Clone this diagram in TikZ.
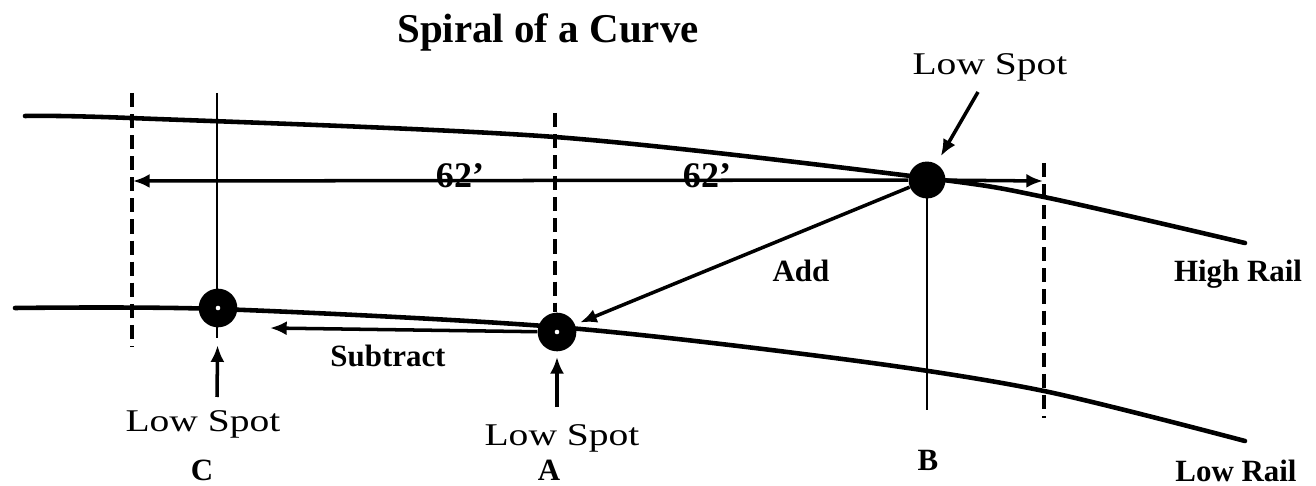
\documentclass[tikz,border=0pt]{standalone}
\usepackage{fontspec}
\setmainfont{Liberation Serif}
\newfontfamily\spotfont[FakeStretch=1.25]{Liberation Serif}
\usetikzlibrary{arrows.meta}

\begin{document}
\begin{tikzpicture}[x=0.02cm, y=-0.02cm, >={Latex[length=9.5pt,width=8pt]},
  rail/.style={line width=2.6pt, line cap=round},
  guide/.style={line width=0.9pt},
  dashguide/.style={line width=2pt, dash pattern=on 8pt off 4pt},
  pointer/.style={->, line width=2pt},
  lowdot/.style={circle, fill=black, inner sep=0pt, minimum size=22pt,
    path picture={\fill[white] (path picture bounding box.center) circle (1.3pt);}},
  highdot/.style={circle, fill=black, inner sep=0pt, minimum size=21pt},
  titletext/.style={font=\fontsize{23.3pt}{28pt}\selectfont\bfseries},
  boldlbl/.style={font=\fontsize{17.6pt}{21pt}\selectfont\bfseries},
  spotlbl/.style={font=\spotfont\fontsize{18pt}{21pt}\selectfont},
  dimlbl/.style={font=\fontsize{20.5pt}{24pt}\selectfont\bfseries}]
  \useasboundingbox (0,0) rectangle (1316,486);
  % rails
  \draw[rail] plot[smooth] coordinates {(25,116) (130,118) (555,137) (927,178) (1044,197) (1245,243)};
  \draw[rail] plot[smooth] coordinates {(15,308) (218,309) (557,327) (850,360) (1044,391) (1245,441)};
  % station lines
  \draw[dashguide] (132,93) -- (132,347);
  \draw[dashguide] (555,113) -- (555,312);
  \draw[dashguide] (1044,163) -- (1044,418);
  \draw[guide] (217,93) -- (217,338);
  \draw[guide] (927,180) -- (927,410);
  % low spots
  \node[lowdot] (dotC) at (218,308) {};
  \node[lowdot] (dotA) at (557,332) {};
  \node[highdot] (dotB) at (927,180) {};
  \coordinate (dimL) at (133,181);
  \coordinate (dimR) at (1043,181);
  \coordinate (subEnd) at (270,328);
  \coordinate (footC) at (217,397);
  \coordinate (footA) at (557,407);
  \coordinate (topB) at (978,92);
  % arrows
  \draw[pointer] (dotB) -- (dimL);
  \draw[pointer] (dotB) -- (dimR);
  \draw[pointer, shorten >=3pt] (dotB) -- (dotA);
  \draw[pointer] (dotA) -- (subEnd);
  \draw[pointer, shorten >=10pt] (footC) -- (dotC);
  \draw[pointer, shorten >=3pt] (footA) -- (dotA);
  \draw[pointer, shorten >=5pt] (topB) -- (dotB);
  % labels
  \node[titletext, anchor=base] (title) at (548,43) {Spiral of a Curve};
  \node[spotlbl, anchor=base] (spotBtxt) at (990,75) {Low Spot};
  \node[spotlbl, anchor=base] (spotCtxt) at (203,431) {Low Spot};
  \node[spotlbl, anchor=base] (spotAtxt) at (562,445) {Low Spot};
  \node[boldlbl, anchor=base] (lblC) at (202,480) {C};
  \node[boldlbl, anchor=base] (lblA) at (549,480) {A};
  \node[boldlbl, anchor=base] (lblB) at (928,470) {B};
  \node[boldlbl, anchor=base] (addtxt) at (801,282) {Add};
  \node[boldlbl, anchor=base] (subtxt) at (388,367) {Subtract};
  \node[boldlbl, anchor=base] (hightxt) at (1238,282) {High Rail};
  \node[boldlbl, anchor=base] (lowtxt) at (1236,481) {Low Rail};
  \node[dimlbl, anchor=base] (dim1) at (460,188) {62'};
  \node[dimlbl, anchor=base] (dim2) at (707,188) {62'};
\end{tikzpicture}
\end{document}
